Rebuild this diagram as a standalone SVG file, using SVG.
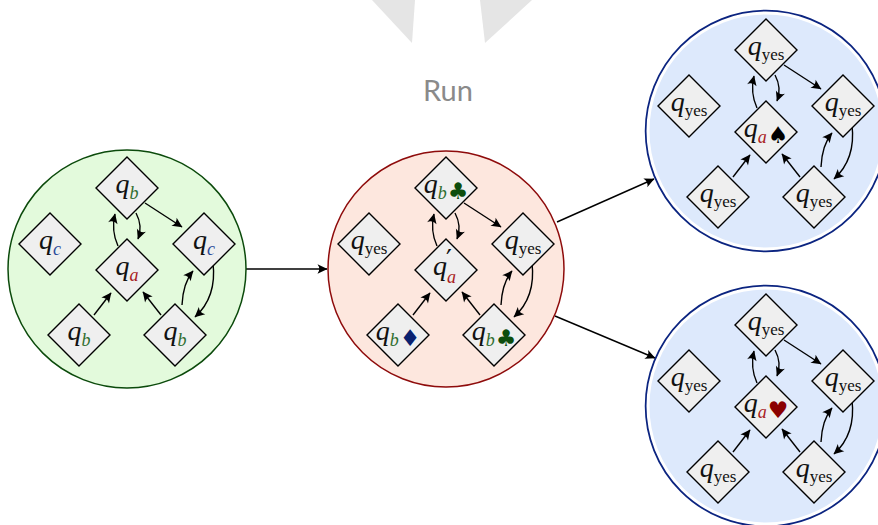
<svg xmlns="http://www.w3.org/2000/svg" width="878" height="525" viewBox="0 0 878 525">
<defs>
<marker id="ah" markerUnits="userSpaceOnUse" viewBox="-11 -6 12 12" markerWidth="12" markerHeight="12" refX="0" refY="0" orient="auto">
<path d="M0.5,0 L-9.5,-4.8 Q-6,0 -9.5,4.8 Z" fill="#000"/>
</marker>
</defs>
<style>
.bg{fill:#e5e5e5;stroke:none}
.run{font-family:Lato,"Open Sans",sans-serif;font-size:29px;fill:#8a8a8a}
.node{fill:#efefef;stroke:#000;stroke-width:1.4}
.q{font-family:"Liberation Serif",serif;font-style:italic;font-size:28px;fill:#111}
.s{font-size:18px}
.y{font-style:normal;font-size:17px}
.pr{font-family:"DejaVu Serif",serif;font-style:normal;font-size:26px}
.suit{font-family:"DejaVu Sans",sans-serif;font-style:normal;font-size:23px}
.b{fill:#2f6e2f}.c{fill:#2b4c9b}.a{fill:#a81c1c}
.club{fill:#0d4d0d}.dia{fill:#0a2170}.spade{fill:#000}.heart{fill:#8b0000}
.e{fill:none;stroke:#000;stroke-width:1.4;marker-end:url(#ah)}
.green{fill:#e3fadc;stroke:#0b4a0b;stroke-width:1.5}
.red{fill:#fde7de;stroke:#8e0b0b;stroke-width:1.5}
.blueo{fill:none;stroke:#0b2480;stroke-width:6.5}
.bluei{fill:#dde9fc;stroke:#fff;stroke-width:3}
</style>
<rect width="878" height="525" fill="#fff"/>
<polygon class="bg" points="372,0 415,0 412,43"/>
<polygon class="bg" points="480,0 532,0 485,43"/>
<text class="run" x="448" y="101" text-anchor="middle">Run</text>

<g id="connectors">
<path class="e" d="M246,269 L327,269"/>
<path class="e" d="M557,222 L654,179"/>
<path class="e" d="M555,316 L655,358"/>
</g>

<!-- Circle 1 -->
<g id="state1" transform="translate(127,269)">
<circle class="green" r="119"/>
<g id="s1-edges">
<path class="e" d="M18,-66 L55,-42"/>
<path class="e" d="M-9,-23 Q-16,-38 -12,-55"/>
<path class="e" d="M9,-56 Q16,-43 11,-30"/>
<path class="e" d="M-33,46 L-16,24"/>
<path class="e" d="M34,46 L16,23"/>
<path class="e" d="M55,36 Q56,14 66,2"/>
<path class="e" d="M86,-6 Q90,28 68,48"/>
</g>
<g id="s1-T" transform="translate(0,-81)"><polygon class="node" points="0,-31 31,0 0,31 -31,0"/><text class="q" y="5" text-anchor="middle">q<tspan class="s b" dy="6">b</tspan></text></g>
<g id="s1-L" transform="translate(-77,-25)"><polygon class="node" points="0,-31 31,0 0,31 -31,0"/><text class="q" y="5" text-anchor="middle">q<tspan class="s c" dy="6">c</tspan></text></g>
<g id="s1-C" transform="translate(0,1)"><polygon class="node" points="0,-31 31,0 0,31 -31,0"/><text class="q" y="5" text-anchor="middle">q<tspan class="s a" dy="6">a</tspan></text></g>
<g id="s1-R" transform="translate(77,-25)"><polygon class="node" points="0,-31 31,0 0,31 -31,0"/><text class="q" y="5" text-anchor="middle">q<tspan class="s c" dy="6">c</tspan></text></g>
<g id="s1-BL" transform="translate(-48,66)"><polygon class="node" points="0,-31 31,0 0,31 -31,0"/><text class="q" y="5" text-anchor="middle">q<tspan class="s b" dy="6">b</tspan></text></g>
<g id="s1-BR" transform="translate(48,66)"><polygon class="node" points="0,-31 31,0 0,31 -31,0"/><text class="q" y="5" text-anchor="middle">q<tspan class="s b" dy="6">b</tspan></text></g>
</g>

<!-- Circle 2 -->
<g id="state2" transform="translate(446,269)">
<circle class="red" r="118"/>
<g id="s2-edges">
<path class="e" d="M18,-66 L55,-42"/>
<path class="e" d="M-9,-23 Q-16,-38 -12,-55"/>
<path class="e" d="M9,-56 Q16,-43 11,-30"/>
<path class="e" d="M-33,46 L-16,24"/>
<path class="e" d="M34,46 L16,23"/>
<path class="e" d="M55,36 Q56,14 66,2"/>
<path class="e" d="M86,-6 Q90,28 68,48"/>
</g>
<g id="s2-T" transform="translate(0,-81)"><polygon class="node" points="0,-31 31,0 0,31 -31,0"/><text class="q" y="5" text-anchor="middle">q<tspan class="s b" dy="6">b</tspan><tspan class="suit club" dx="1">♣</tspan></text></g>
<g id="s2-L" transform="translate(-77,-25)"><polygon class="node" points="0,-31 31,0 0,31 -31,0"/><text class="q" y="5" text-anchor="middle">q<tspan class="y" dy="5">yes</tspan></text></g>
<g id="s2-C" transform="translate(0,1)"><polygon class="node" points="0,-31 31,0 0,31 -31,0"/><text class="q" x="-13" y="5">q</text><text class="q pr" x="0" y="-2">′</text><text class="q s a" x="1" y="13">a</text></g>
<g id="s2-R" transform="translate(77,-25)"><polygon class="node" points="0,-31 31,0 0,31 -31,0"/><text class="q" y="5" text-anchor="middle">q<tspan class="y" dy="5">yes</tspan></text></g>
<g id="s2-BL" transform="translate(-48,66)"><polygon class="node" points="0,-31 31,0 0,31 -31,0"/><text class="q" y="5" text-anchor="middle">q<tspan class="s b" dy="6">b</tspan><tspan class="suit dia" dx="1">♦</tspan></text></g>
<g id="s2-BR" transform="translate(48,66)"><polygon class="node" points="0,-31 31,0 0,31 -31,0"/><text class="q" y="5" text-anchor="middle">q<tspan class="s b" dy="6">b</tspan><tspan class="suit club" dx="1">♣</tspan></text></g>
</g>

<!-- Circle 3 -->
<g id="state3" transform="translate(766,131)">
<circle class="blueo" r="118"/>
<circle class="bluei" r="118"/>
<g id="s3-edges">
<path class="e" d="M18,-66 L55,-42"/>
<path class="e" d="M-9,-23 Q-16,-38 -12,-55"/>
<path class="e" d="M9,-56 Q16,-43 11,-30"/>
<path class="e" d="M-33,46 L-16,24"/>
<path class="e" d="M34,46 L16,23"/>
<path class="e" d="M55,36 Q56,14 66,2"/>
<path class="e" d="M86,-6 Q90,28 68,48"/>
</g>
<g id="s3-T" transform="translate(0,-81)"><polygon class="node" points="0,-31 31,0 0,31 -31,0"/><text class="q" y="5" text-anchor="middle">q<tspan class="y" dy="5">yes</tspan></text></g>
<g id="s3-L" transform="translate(-77,-25)"><polygon class="node" points="0,-31 31,0 0,31 -31,0"/><text class="q" y="5" text-anchor="middle">q<tspan class="y" dy="5">yes</tspan></text></g>
<g id="s3-C" transform="translate(0,1)"><polygon class="node" points="0,-31 31,0 0,31 -31,0"/><text class="q" y="5" text-anchor="middle">q<tspan class="s a" dy="6">a</tspan><tspan class="suit spade" dx="1">♠</tspan></text></g>
<g id="s3-R" transform="translate(77,-25)"><polygon class="node" points="0,-31 31,0 0,31 -31,0"/><text class="q" y="5" text-anchor="middle">q<tspan class="y" dy="5">yes</tspan></text></g>
<g id="s3-BL" transform="translate(-48,66)"><polygon class="node" points="0,-31 31,0 0,31 -31,0"/><text class="q" y="5" text-anchor="middle">q<tspan class="y" dy="5">yes</tspan></text></g>
<g id="s3-BR" transform="translate(48,66)"><polygon class="node" points="0,-31 31,0 0,31 -31,0"/><text class="q" y="5" text-anchor="middle">q<tspan class="y" dy="5">yes</tspan></text></g>
</g>

<!-- Circle 4 -->
<g id="state4" transform="translate(766,406)">
<circle class="blueo" r="118"/>
<circle class="bluei" r="118"/>
<g id="s4-edges">
<path class="e" d="M18,-66 L55,-42"/>
<path class="e" d="M-9,-23 Q-16,-38 -12,-55"/>
<path class="e" d="M9,-56 Q16,-43 11,-30"/>
<path class="e" d="M-33,46 L-16,24"/>
<path class="e" d="M34,46 L16,23"/>
<path class="e" d="M55,36 Q56,14 66,2"/>
<path class="e" d="M86,-6 Q90,28 68,48"/>
</g>
<g id="s4-T" transform="translate(0,-81)"><polygon class="node" points="0,-31 31,0 0,31 -31,0"/><text class="q" y="5" text-anchor="middle">q<tspan class="y" dy="5">yes</tspan></text></g>
<g id="s4-L" transform="translate(-77,-25)"><polygon class="node" points="0,-31 31,0 0,31 -31,0"/><text class="q" y="5" text-anchor="middle">q<tspan class="y" dy="5">yes</tspan></text></g>
<g id="s4-C" transform="translate(0,1)"><polygon class="node" points="0,-31 31,0 0,31 -31,0"/><text class="q" y="5" text-anchor="middle">q<tspan class="s a" dy="6">a</tspan><tspan class="suit heart" dx="1">♥</tspan></text></g>
<g id="s4-R" transform="translate(77,-25)"><polygon class="node" points="0,-31 31,0 0,31 -31,0"/><text class="q" y="5" text-anchor="middle">q<tspan class="y" dy="5">yes</tspan></text></g>
<g id="s4-BL" transform="translate(-48,66)"><polygon class="node" points="0,-31 31,0 0,31 -31,0"/><text class="q" y="5" text-anchor="middle">q<tspan class="y" dy="5">yes</tspan></text></g>
<g id="s4-BR" transform="translate(48,66)"><polygon class="node" points="0,-31 31,0 0,31 -31,0"/><text class="q" y="5" text-anchor="middle">q<tspan class="y" dy="5">yes</tspan></text></g>
</g>
</svg>
